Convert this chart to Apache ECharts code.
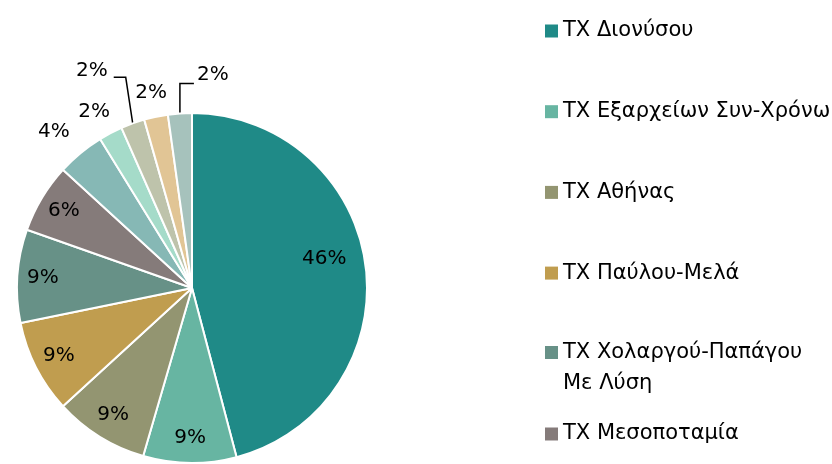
<!DOCTYPE html>
<html>
<head>
<meta charset="utf-8">
<script src="https://cdn.jsdelivr.net/npm/echarts@6/dist/echarts.min.js"></script>
<style>
html, body { margin: 0; padding: 0; background: #fff; }
#container1 { width: 832px; height: 464px; }
</style>
</head>
<body>
<div id="container1"></div>
<script>
// slice names (only the first six are shown in the legend)
var names = ['ΤΧ Διονύσου', 'ΤΧ Εξαρχείων Συν-Χρόνω', 'ΤΧ Αθήνας', 'ΤΧ Παύλου-Μελά',
    'ΤΧ Χολαργού-Παπάγου Με Λύση', 'ΤΧ Μεσοποταμία', 'ΤΧ 7', 'ΤΧ 8', 'ΤΧ 9', 'ΤΧ 10', 'ΤΧ 11'];
var values = [45.9, 8.6, 8.7, 8.6, 8.6, 6.4, 4.4, 2.2, 2.2, 2.2, 2.2];
var colors = ['#1f8a87', '#67b5a2', '#939571', '#c09d4f', '#679187', '#857b7a',
    '#86b8b5', '#a5dbc9', '#bec3ab', '#e1c595', '#a6c2bc'];

var font = 'DejaVu Sans';
var pieCenter = [192, 288];

function pct(p) { return Math.round(p.value) + '%'; }

// per-slice settings for the small outside labels
var outside = {
    6: {length: 34, length2: 0, line: false, dist: -16},
    7: {length: 27, length2: 0, line: false, dist: -16},
    8: {length: 46, length2: 12, line: true, dist: 4},
    9: {length: 24, length2: 0, line: false, dist: -16},
    10: {length: 30, length2: 14, line: true, dist: 4}
};

var mainData = [];
var overlayData = [];
for (var i = 0; i < values.length; i++) {
    var o = outside[i];
    mainData.push({
        name: names[i],
        value: values[i],
        itemStyle: {color: colors[i]},
        label: o ? {show: true, position: 'outside', distanceToLabelLine: o.dist} : {show: false},
        labelLine: o ? {show: o.line, length: o.length, length2: o.length2} : {show: false}
    });
    overlayData.push({
        name: names[i],
        value: values[i],
        itemStyle: {color: 'rgba(0,0,0,0)', borderWidth: 0},
        label: {show: i < 6}
    });
}

var legendText = {
    color: '#000',
    fontFamily: font,
    fontSize: 21
};

var dom1 = document.getElementById('container1');
var myChart1 = echarts.init(dom1);
var option = {
    backgroundColor: '#fff',
    animation: false,
    legend: [
        {
            data: names.slice(0, 4),
            orient: 'vertical',
            left: 540,
            top: 14,
            itemGap: 56.7,
            itemWidth: 13,
            itemHeight: 13,
            icon: 'rect',
            itemStyle: {borderWidth: 0},
            textStyle: Object.assign({lineHeight: 24}, legendText)
        },
        {
            data: [names[4]],
            orient: 'vertical',
            left: 540,
            top: 301,
            itemWidth: 13,
            itemHeight: 13,
            icon: 'rect',
            itemStyle: {borderWidth: 0},
            formatter: function () { return '\nΤΧ Χολαργού-Παπάγου\nΜε Λύση'; },
            textStyle: Object.assign({lineHeight: 31}, legendText)
        },
        {
            data: [names[5]],
            orient: 'vertical',
            left: 540,
            top: 417,
            itemWidth: 13,
            itemHeight: 13,
            icon: 'rect',
            itemStyle: {borderWidth: 0},
            textStyle: Object.assign({lineHeight: 24}, legendText)
        }
    ],
    series: [
        {
            name: 'main',
            type: 'pie',
            center: pieCenter,
            radius: 175,
            startAngle: 90,
            clockwise: true,
            avoidLabelOverlap: false,
            silent: true,
            data: mainData,
            itemStyle: {borderColor: '#fff', borderWidth: 2},
            label: {formatter: pct, color: '#000', fontFamily: font, fontSize: 20},
            labelLine: {lineStyle: {color: '#000', width: 1.5}, smooth: false},
            labelLayout: function (params) {
                if (params.dataIndex === 6) return {dx: -5, dy: 5};
                if (params.dataIndex === 7) return {dx: -4, dy: 3};
                if (!params.labelLinePoints) return;
                var p = params.labelLinePoints[0];
                if (params.dataIndex === 10) {
                    return {
                        x: p[0] + 17,
                        y: p[1] - 39,
                        align: 'left',
                        verticalAlign: 'middle',
                        labelLinePoints: [p, [p[0], p[1] - 30], [p[0] + 14, p[1] - 30]]
                    };
                }
                if (params.dataIndex === 8) {
                    return {
                        x: p[0] - 25,
                        y: p[1] - 53,
                        align: 'right',
                        verticalAlign: 'middle',
                        labelLinePoints: [p, [p[0] - 7, p[1] - 46], [p[0] - 19, p[1] - 46]]
                    };
                }
            }
        },
        {
            name: 'labels',
            type: 'pie',
            center: pieCenter,
            radius: [118, 175],
            startAngle: 90,
            clockwise: true,
            silent: true,
            avoidLabelOverlap: false,
            data: overlayData,
            label: {position: 'inside', formatter: pct, color: '#000', fontFamily: font, fontSize: 20},
            labelLine: {show: false},
            labelLayout: function (params) {
                if (params.dataIndex === 0) return {dx: -16, dy: -10};
            }
        }
    ]
};

if (option && typeof option === 'object') {
    myChart1.setOption(option);
}
</script>
</body>
</html>
